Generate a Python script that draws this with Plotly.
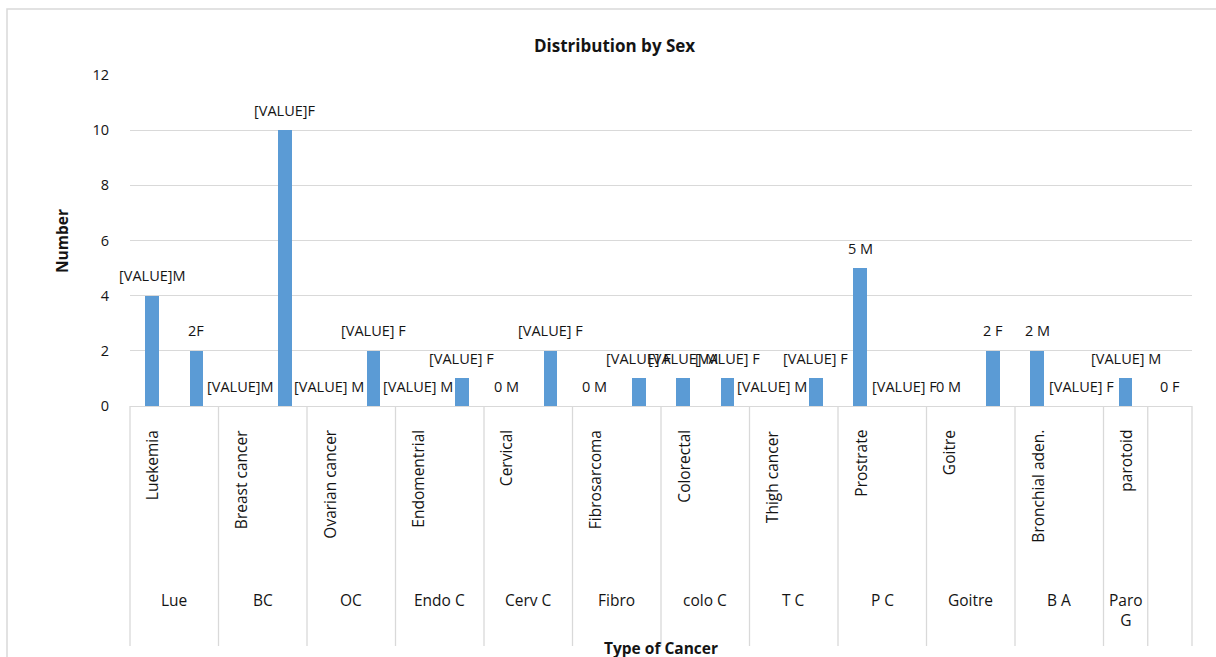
import plotly.graph_objects as go

# Cancer types: short codes (bottom row) and full names (rotated row)
groups = ["Lue", "BC", "OC", "Endo C", "Cerv C", "Fibro", "colo C", "T C",
          "P C", "Goitre", "B A", "Paro G"]
cancers = ["Luekemia", "Breast cancer", "Ovarian cancer", "Endomentrial",
           "Cervical", "Fibrosarcoma", "Colorectal", "Thigh cancer",
           "Prostrate", "Goitre", "Bronchial aden.", "parotoid"]

# Counts by sex
male = [4, 0, 0, 0, 0, 0, 1, 0, 5, 0, 2, 1]
female = [2, 10, 2, 1, 2, 1, 1, 1, 0, 2, 0, 0]

# Data labels as printed above each bar
male_labels = ["[VALUE]M", "[VALUE]M", "[VALUE] M", "[VALUE] M", "0 M", "0 M",
               "[VALUE] M", "[VALUE] M", "5 M", "0 M", "2 M", "[VALUE] M"]
female_labels = ["2F", "[VALUE]F", "[VALUE] F", "[VALUE] F", "[VALUE] F",
                 "[VALUE] F", "[VALUE] F", "[VALUE] F", "[VALUE] F", "2 F",
                 "[VALUE] F", "0 F"]

y_ticks = [0, 2, 4, 6, 8, 10, 12]

FONT = "Open Sans"
TXT = "#141414"
GRID = "#d9d9d9"
BAR = "#5b9bd5"

W, H = 1216, 657
L, R, T, B = 130, 24, 75, 251
plot_w = W - L - R
plot_h = H - T - B
n_slots = 2 * len(groups)


def py(px_y):
    """Pixel row -> paper y."""
    return (H - B - px_y) / plot_h


def px(px_x):
    """Pixel column -> paper x."""
    return (px_x - L) / plot_w


male_x = [2 * i for i in range(len(groups))]
female_x = [2 * i + 1 for i in range(len(groups))]

fig = go.Figure()
fig.add_trace(go.Bar(x=male_x, y=male, width=0.3, marker_color=BAR,
                     marker_line_width=0, name="M", hoverinfo="x+y"))
fig.add_trace(go.Bar(x=female_x, y=female, width=0.3, marker_color=BAR,
                     marker_line_width=0, name="F", hoverinfo="x+y"))

annotations = []

# value labels above bars
for xs, vals, labs in ((male_x, male, male_labels),
                       (female_x, female, female_labels)):
    for x, v, t in zip(xs, vals, labs):
        annotations.append(dict(x=x, y=v, xref="x", yref="y", text=t,
                                showarrow=False, yshift=20, yanchor="middle",
                                font=dict(family=FONT, size=14.5, color=TXT)))

# rotated cancer names
for i, name in enumerate(cancers):
    annotations.append(dict(x=2 * i, y=py(428), xref="x", yref="paper",
                            text=name, textangle=-90, showarrow=False,
                            xanchor="center", yanchor="top",
                            font=dict(family=FONT, size=15.5, color=TXT)))

# short codes; the last code sits over a single slot
code_x = [2 * i + 0.5 for i in range(len(groups) - 1)] + [2 * (len(groups) - 1)]
for x, g in zip(code_x, groups):
    annotations.append(dict(x=x, y=py(587), xref="x", yref="paper",
                            text=g.replace("Paro G", "Paro<br>G"),
                            showarrow=False, xanchor="center", yanchor="top",
                            font=dict(family=FONT, size=15.5, color=TXT)))

# titles
annotations.append(dict(x=px(614), y=py(45), xref="paper", yref="paper",
                        text="<b>Distribution by Sex</b>", showarrow=False,
                        xanchor="center", yanchor="middle",
                        font=dict(family=FONT, size=17, color=TXT)))
annotations.append(dict(x=px(62), y=py(241), xref="paper", yref="paper",
                        text="<b>Number</b>", textangle=-90, showarrow=False,
                        xanchor="center", yanchor="middle",
                        font=dict(family=FONT, size=15.5, color=TXT)))
annotations.append(dict(x=px(661), y=py(648), xref="paper", yref="paper",
                        text="<b>Type of Cancer</b>", showarrow=False,
                        xanchor="center", yanchor="middle",
                        font=dict(family=FONT, size=15.5, color=TXT)))

shapes = []
# category-axis dividers
bounds = list(range(0, n_slots - 1, 2)) + [n_slots - 1, n_slots]
for k in bounds:
    xp = k / n_slots
    shapes.append(dict(type="line", xref="paper", yref="paper",
                       x0=xp, x1=xp, y0=0, y1=py(646),
                       line=dict(color=GRID, width=1.3)))
# chart frame
shapes.append(dict(type="rect", xref="paper", yref="paper",
                   x0=px(7), x1=px(1240), y0=py(9), y1=py(680),
                   line=dict(color=GRID, width=1.5), fillcolor="rgba(0,0,0,0)"))

fig.update_layout(
    width=W, height=H,
    margin=dict(l=L, r=R, t=T, b=B),
    paper_bgcolor="white", plot_bgcolor="white",
    showlegend=False,
    bargap=0,
    annotations=annotations,
    shapes=shapes,
    font=dict(family=FONT, size=14, color=TXT),
)
fig.update_xaxes(range=[-0.5, n_slots - 0.5], showticklabels=False,
                 showgrid=False, zeroline=False, showline=True,
                 linecolor=GRID, linewidth=1.3, fixedrange=True)
fig.update_yaxes(range=[0, 12], tickvals=y_ticks, showgrid=True,
                 gridcolor=GRID, gridwidth=1.3, zeroline=False,
                 showline=False, ticks="", ticklabelstandoff=20,
                 tickfont=dict(family=FONT, size=14.5, color=TXT),
                 fixedrange=True)

fig.write_html("out.html")
